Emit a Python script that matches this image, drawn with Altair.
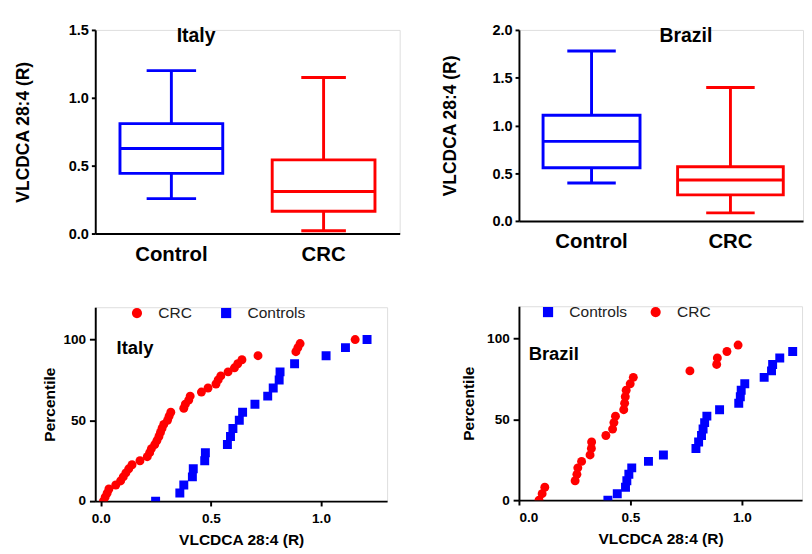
import altair as alt
import pandas as pd

FONT = "Liberation Sans"
BLUE = "#0000FF"
RED = "#FF0000"

# ---- box plot summaries ----
groups = ["Control", "CRC"]
italy_min = [0.257, 0.020]
italy_q1 = [0.443, 0.164]
italy_med = [0.626, 0.310]
italy_q3 = [0.810, 0.543]
italy_max = [1.200, 1.150]

brazil_min = [0.398, 0.084]
brazil_q1 = [0.557, 0.273]
brazil_med = [0.833, 0.428]
brazil_q3 = [1.106, 0.567]
brazil_max = [1.780, 1.397]

# ---- cumulative percentile plots ----
italy_ctrl_x = [0.249, 0.359, 0.377, 0.416, 0.420, 0.472, 0.475, 0.575, 0.589, 0.600, 0.629,
                0.644, 0.700, 0.758, 0.783, 0.810, 0.814, 0.880, 1.023, 1.111, 1.209]
italy_ctrl_p = [0, 5, 10, 15, 20, 25, 30, 35, 40, 45, 50,
                55, 60, 65, 70, 75, 80, 85, 90, 95, 100]
italy_crc_x = [0.012, 0.020, 0.029, 0.037, 0.068, 0.090, 0.102, 0.114, 0.127, 0.142,
               0.178, 0.211, 0.222, 0.230, 0.245, 0.255, 0.264, 0.271, 0.278, 0.286,
               0.303, 0.310, 0.318, 0.377, 0.384, 0.399, 0.406, 0.457, 0.487, 0.523,
               0.533, 0.545, 0.578, 0.607, 0.622, 0.641, 0.714, 0.886, 0.895, 0.905, 1.155]
italy_crc_p = [0, 2.5, 5, 7.5, 10, 12.5, 15, 17.5, 20, 22.5,
               25, 27.5, 30, 32.5, 35, 37.5, 40, 42.5, 45, 47.5,
               50, 52.5, 55, 57.5, 60, 62.5, 65, 67.5, 70, 72.5,
               75, 77.5, 80, 82.5, 85, 87.5, 90, 92.5, 95, 97.5, 100]

brazil_ctrl_x = [0.399, 0.441, 0.478, 0.484, 0.493, 0.506, 0.581, 0.648, 0.794, 0.806,
                 0.819, 0.826, 0.833, 0.843, 0.900, 0.986, 0.993, 0.997, 1.013, 1.100,
                 1.133, 1.138, 1.170, 1.228]
brazil_ctrl_p = [0, 4, 8, 12, 16, 20, 24, 28, 32, 36,
                 40, 44, 48, 52, 56, 60, 64, 68, 72, 76,
                 80, 84, 88, 92]
brazil_crc_x = [0.090, 0.104, 0.116, 0.252, 0.260, 0.264, 0.281, 0.319, 0.325, 0.326,
                0.390, 0.420, 0.426, 0.433, 0.470, 0.474, 0.477, 0.481, 0.499, 0.513,
                0.767, 0.887, 0.890, 0.933, 0.983]
brazil_crc_p = [0, 4, 8, 12, 16, 20, 24, 28, 32, 36,
                40, 44, 48, 52, 56, 60, 64, 68, 72, 76,
                80, 84, 88, 92, 96]

AXIS_COMMON = dict(domainColor="black", domainWidth=2, tickColor="black", tickWidth=2,
                   labelColor="black", titleColor="black", labelFont=FONT, titleFont=FONT,
                   labelFontWeight="bold", titleFontWeight="bold", grid=False)


def box_panel(title, mins, q1s, meds, q3s, maxs, ymax, yticks, width, height,
              box_ws, cap_ws, title_pad, tdx, tdy, pin, pout, lab_pad):
    df = pd.DataFrame({"group": groups, "lo": mins, "q1": q1s, "med": meds,
                       "q3": q3s, "hi": maxs})
    x = alt.X("group:N", sort=groups, title=None,
              scale=alt.Scale(paddingInner=pin, paddingOuter=pout),
              axis=alt.Axis(labelAngle=0, labelFontSize=21, ticks=False, labelPadding=lab_pad,
                            **AXIS_COMMON))
    ysc = alt.Scale(domain=[0, ymax], nice=False)
    color = alt.Color("group:N", scale=alt.Scale(domain=groups, range=[BLUE, RED]), legend=None)
    box_size = alt.Size("group:O", scale=alt.Scale(domain=groups, range=box_ws), legend=None)
    cap_size = alt.Size("group:O", scale=alt.Scale(domain=groups, range=cap_ws), legend=None)
    base = alt.Chart(df).encode(x=x, color=color)
    yaxis = alt.Axis(values=yticks, format=".1f", labelFontSize=15, titleFontSize=18,
                     tickSize=4, labelPadding=3, titlePadding=title_pad, **AXIS_COMMON)
    lower = base.mark_rule(strokeWidth=3, opacity=1).encode(
        y=alt.Y("lo:Q", scale=ysc, axis=yaxis, title="VLCDCA 28:4 (R)"), y2="q1:Q")
    upper = base.mark_rule(strokeWidth=3, opacity=1).encode(y=alt.Y("q3:Q", scale=ysc), y2="hi:Q")
    box = base.mark_bar(filled=False, strokeWidth=3, opacity=1).encode(
        y=alt.Y("q1:Q", scale=ysc), y2="q3:Q", size=box_size)
    med = base.mark_tick(thickness=3, opacity=1).encode(
        y=alt.Y("med:Q", scale=ysc), size=box_size)
    cap_lo = base.mark_tick(thickness=3, opacity=1).encode(
        y=alt.Y("lo:Q", scale=ysc), size=cap_size)
    cap_hi = base.mark_tick(thickness=3, opacity=1).encode(
        y=alt.Y("hi:Q", scale=ysc), size=cap_size)
    return alt.layer(lower, upper, box, med, cap_lo, cap_hi).resolve_scale(size="independent").properties(
        width=width, height=height,
        title=alt.TitleParams(title, font=FONT, fontSize=20, fontWeight="bold", color="black",
                              anchor="start", frame="group", baseline="alphabetic",
                              offset=0, dx=tdx, dy=tdy))


def scatter_panel(title, ctrl_x, ctrl_p, crc_x, crc_p, order, xmin, xmax, width, height,
                  tdx, tdy, leg_x, leg_y, col_pad, ytitle_pad):
    df = pd.concat([
        pd.DataFrame({"x": crc_x, "p": crc_p, "grp": "CRC"}),
        pd.DataFrame({"x": ctrl_x, "p": ctrl_p, "grp": "Controls"}),
    ])
    col = {"CRC": RED, "Controls": BLUE}
    shp = {"CRC": "circle", "Controls": "square"}
    leg = alt.Legend(title=None, orient="none", legendX=leg_x, legendY=leg_y,
                     direction="horizontal", labelFont=FONT, labelFontSize=16,
                     labelColor="#222222", symbolSize=110, symbolStrokeWidth=0,
                     labelOffset=14, columnPadding=col_pad, padding=0)
    return alt.Chart(df).mark_point(filled=True, opacity=1, size=85, clip=True).encode(
        x=alt.X("x:Q", scale=alt.Scale(domain=[xmin, xmax], nice=False, zero=False),
                axis=alt.Axis(values=[0, 0.5, 1.0], format=".1f", labelFontSize=14,
                              titleFontSize=16, tickSize=5, labelPadding=6, titlePadding=7,
                              **AXIS_COMMON),
                title="VLCDCA 28:4 (R)"),
        y=alt.Y("p:Q", scale=alt.Scale(domain=[0, 120], nice=False),
                axis=alt.Axis(values=[0, 50, 100], labelFontSize=14, titleFontSize=16,
                              tickSize=6, labelPadding=4, titlePadding=ytitle_pad,
                              **AXIS_COMMON),
                title="Percentile"),
        color=alt.Color("grp:N", sort=order,
                        scale=alt.Scale(domain=order, range=[col[o] for o in order]),
                        legend=leg),
        shape=alt.Shape("grp:N", sort=order,
                        scale=alt.Scale(domain=order, range=[shp[o] for o in order]),
                        legend=leg),
    ).properties(
        width=width, height=height,
        title=alt.TitleParams(title, font=FONT, fontSize=19, fontWeight="bold", color="black",
                              anchor="start", frame="group", baseline="alphabetic",
                              offset=0, dx=tdx, dy=tdy))


italy_box = box_panel("Italy", italy_min, italy_q1, italy_med, italy_q3, italy_max,
                      1.5, [0, 0.5, 1.0, 1.5], 314, 210, [106, 106], [51, 46], 37, 84, 39,
                      0.5, 0.25, 11)
brazil_box = box_panel("Brazil", brazil_min, brazil_q1, brazil_med, brazil_q3, brazil_max,
                       2.0, [0, 0.5, 1.0, 1.5, 2.0], 293, 197, [100, 109], [50, 50], 34, 145, 39,
                       0.5, 0.2726, 10)
italy_sc = scatter_panel("Italy", italy_ctrl_x, italy_ctrl_p, italy_crc_x, italy_crc_p,
                         ["CRC", "Controls"], -0.025, 1.3, 301, 200, 22, 69, 35, -2, 27, 6)
brazil_sc = scatter_panel("Brazil", brazil_ctrl_x, brazil_ctrl_p, brazil_crc_x, brazil_crc_p,
                          ["Controls", "CRC"], 0, 1.27, 292, 200, 10, 76, 22, -2, 21, 10)

left = alt.vconcat(italy_box, italy_sc, spacing=40).resolve_scale(color="independent", shape="independent")
right = alt.vconcat(brazil_box, brazil_sc, spacing=53).resolve_scale(color="independent", shape="independent")

chart = alt.hconcat(left, right, spacing=41).resolve_scale(
    color="independent", shape="independent"
).properties(
    padding={"left": 6, "top": 6, "right": 0, "bottom": 0}
).configure_view(stroke=None).configure(font=FONT)

chart.save("out.html", embed_options={"renderer": "svg", "actions": False})
